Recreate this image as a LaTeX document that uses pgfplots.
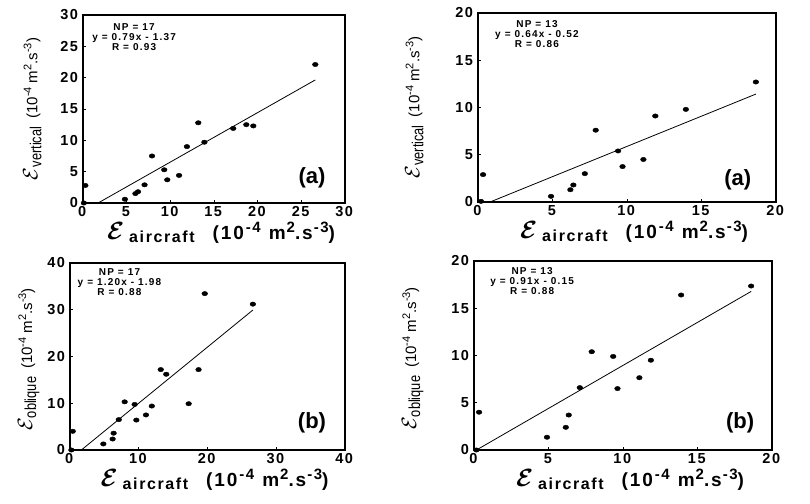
\documentclass[border=0pt]{standalone}
\usepackage{fontspec}
\setmainfont{Liberation Sans}
\newfontfamily\wide[LetterSpace=10]{Liberation Sans}
\newfontfamily\widestat[LetterSpace=12]{Liberation Sans}
\usepackage{bm}
\usepackage{pgfplots}
\pgfplotsset{compat=1.18}

% big script epsilon
\newcommand{\epsx}{{\fontsize{26}{26}\selectfont$\bm{\mathcal{E}}$}}
\newcommand{\epsy}{{\fontsize{22}{22}\selectfont$\mathcal{E}$}}
\newcommand{\sx}[1]{\raisebox{7pt}{\fontsize{15}{15}\selectfont #1}}
\newcommand{\sy}[1]{\raisebox{6pt}{\fontsize{11}{11}\selectfont #1}}
\newcommand{\xlab}{\epsx\hspace{5pt}\raisebox{-3pt}{\fontsize{16}{16}\selectfont\wide\bfseries aircraft}\hspace{18pt}%
  {\fontsize{19}{19}\selectfont\wide\bfseries (10\hspace{2pt}\sx{-4}\hspace{8pt}m\hspace{1pt}\sx{2}.s\hspace{1pt}\sx{-3})}}
\newcommand{\ylab}[1]{\epsy\raisebox{-4pt}{\fontsize{16}{16}\selectfont\scalebox{0.8}[1]{#1}}\hspace{8pt}%
  {\fontsize{15}{15}\selectfont (10\sy{-4} m\sy{2}.s\sy{-3})}}

\pgfplotsset{
  panel/.style={
    scale only axis, clip=false, anchor=south west,
    axis line style={line width=1.1pt},
    tick align=inside, major tick length=3pt,
    xtick pos=left, ytick pos=left,
    tick style={line width=0.8pt, black},
    /pgf/number format/assume math mode=true,
    tick label style={font=\fontsize{14.5}{14.5}\selectfont\wide},
    xticklabel={\textbf{\pgfmathprintnumber{\tick}}},
    yticklabel={\textbf{\pgfmathprintnumber{\tick}}},
    xlabel={\xlab},
    xlabel style={at={(axis description cs:0.5,0)}, anchor=center, yshift=-30pt, xshift=7pt},
  },
  dots/.style={only marks, mark=*, mark size=2.2pt, black, mark options={xscale=1.3}},
  fit/.style={black, line width=0.8pt, mark=none},
}
\tikzset{
  stats/.style={anchor=north, align=center, font=\fontsize{10}{10}\selectfont\widestat\bfseries},
  tag/.style={font=\fontsize{22}{22}\selectfont\bfseries},
}

\begin{document}
\begin{tikzpicture}
\useasboundingbox (0,0) rectangle (810pt,503pt);

% top left
\begin{axis}[panel, at={(83pt,300pt)}, width=262pt, height=188pt,
  xmin=0, xmax=30, ymin=0, ymax=30, xtick={0,5,...,30}, ytick={0,5,...,30},
  ylabel={\ylab{vertical}},
  ylabel style={at={([xshift=-38pt,yshift=0pt]axis description cs:0,0.5)}, rotate=0, anchor=south}]
\addplot[dots] coordinates {
 (0.1,0) (0.27,2.8) (4.8,0.6) (6.0,1.5) (6.3,1.8) (7.05,2.9) (7.9,7.5)
 (9.3,5.3) (9.65,3.7) (11.0,4.4) (11.9,9.0) (13.2,12.8) (13.9,9.7)
 (17.2,11.9) (18.7,12.5) (19.5,12.3) (26.6,22.1)};
\addplot[fit] coordinates {(1.73,0) (26.6,19.64)};
\node[stats] at (rel axis cs:0.195,0.975) {NP = 17\\y = 0.79x - 1.37\\R = 0.93};
\node[tag] at (rel axis cs:0.874,0.133) {(a)};
\end{axis}

% top right
\begin{axis}[panel, at={(478pt,301pt)}, width=298pt, height=189pt,
  xmin=0, xmax=20, ymin=0, ymax=20, xtick={0,5,...,20}, ytick={0,5,...,20},
  ylabel={\ylab{vertical}},
  ylabel style={at={([xshift=-51pt,yshift=0pt]axis description cs:0,0.5)}, rotate=0, anchor=south}]
\addplot[dots] coordinates {
 (0.2,0.07) (0.34,2.9) (4.9,0.6) (6.2,1.3) (6.4,1.8) (7.17,3.0) (7.9,7.6)
 (9.4,5.4) (9.7,3.75) (11.1,4.5) (11.9,9.1) (13.95,9.8) (18.65,12.7)};
\addplot[fit] coordinates {(0.81,0) (18.65,11.42)};
\node[stats] at (rel axis cs:0.198,0.98) {NP = 13\\y = 0.64x - 0.52\\R = 0.86};
\node[tag] at (rel axis cs:0.872,0.116) {(a)};
\end{axis}

% bottom left
\begin{axis}[panel, at={(70pt,53pt)}, width=275pt, height=187pt,
  xmin=0, xmax=40, ymin=0, ymax=40, xtick={0,10,...,40}, ytick={0,10,...,40},
  ylabel={\ylab{oblique}},
  ylabel style={at={([xshift=-27pt,yshift=-3pt]axis description cs:0,0.5)}, rotate=0, anchor=south}]
\addplot[dots] coordinates {
 (0.2,0) (0.4,4.0) (4.85,1.3) (6.2,2.35) (6.35,3.6) (7.1,6.5) (7.95,10.3)
 (9.4,9.75) (9.65,6.4) (11.05,7.5) (11.9,9.4) (13.2,17.2) (14.0,16.2)
 (17.26,9.9) (18.7,17.2) (19.6,33.45) (26.6,31.2)};
\addplot[fit] coordinates {(1.65,0) (26.6,29.94)};
\node[stats] at (rel axis cs:0.18,0.99) {NP = 17\\y = 1.20x - 1.98\\R = 0.88};
\node[tag] at (rel axis cs:0.88,0.144) {(b)};
\end{axis}

% bottom right
\begin{axis}[panel, at={(474pt,53pt)}, width=298pt, height=189pt,
  xmin=0, xmax=20, ymin=0, ymax=20, xtick={0,5,...,20}, ytick={0,5,...,20},
  ylabel={\ylab{oblique}},
  ylabel style={at={([xshift=-47pt,yshift=-3pt]axis description cs:0,0.5)}, rotate=0, anchor=south}]
\addplot[dots] coordinates {
 (0.16,0) (0.34,4.0) (4.9,1.35) (6.16,2.4) (6.36,3.7) (7.1,6.6) (7.9,10.4)
 (9.34,9.9) (9.63,6.5) (11.1,7.65) (11.87,9.5) (13.9,16.4) (18.6,17.35)};
\addplot[fit] coordinates {(0.165,0) (18.6,16.78)};
\node[stats] at (rel axis cs:0.195,0.985) {NP = 13\\y = 0.91x - 0.15\\R = 0.88};
\node[tag] at (rel axis cs:0.893,0.143) {(b)};
\end{axis}
\end{tikzpicture}
\end{document}
